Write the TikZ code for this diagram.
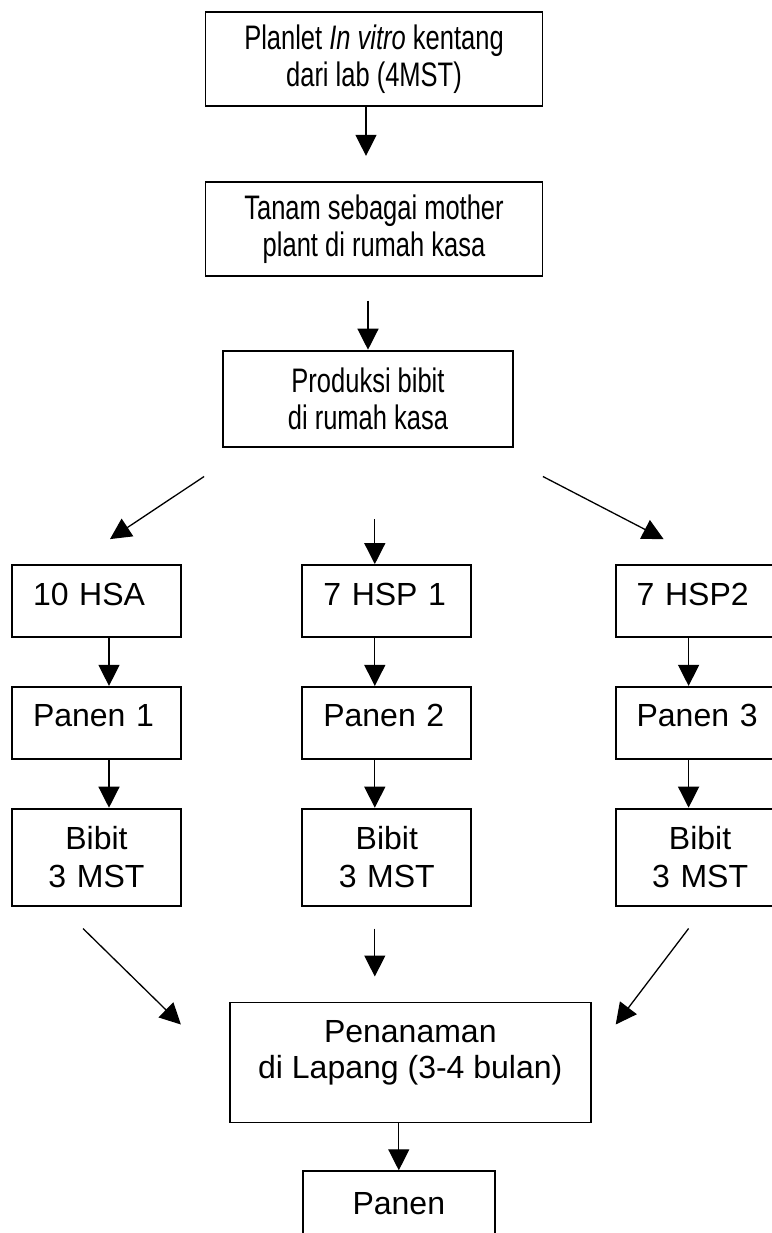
\documentclass[tikz,border=0pt]{standalone}
\usepackage{fontspec}
\setmainfont{Liberation Sans}
\newfontfamily\narrowfont[FakeStretch=0.75]{Liberation Sans}
\usetikzlibrary{positioning}
\usetikzlibrary{arrows.meta}
\tikzset{>={Triangle[width=21pt,length=21pt]}}
\tikzset{
  topbox/.style={draw, line width=1.8pt, minimum width=337pt, minimum height=94pt, align=center, font=\narrowfont\fontsize{34}{37}\selectfont},
  stepbox/.style={draw, line width=1.8pt, minimum width=169pt, minimum height=72pt, text width=127pt, inner xsep=21pt, align=left, text height=23pt, text depth=15pt, font=\fontsize{32}{38}\selectfont},
  seedbox/.style={draw, line width=1.8pt, minimum width=169pt, minimum height=97pt, text width=127pt, inner xsep=21pt, align=center, font=\fontsize{32}{38}\selectfont},
  arrow/.style={->, line width=1.3pt}
}
\begin{document}
\begin{tikzpicture}
\useasboundingbox (0,0) rectangle (771pt,-1233pt);
\node (PI) [topbox] at (374pt,-59pt) {Planlet \textit{In vitro} kentang\\dari lab (4MST)};
\node (TM) [topbox, below=74pt of PI] {Tanam sebagai mother\\plant di rumah kasa};
\node (PB) [topbox, minimum width=290pt, minimum height=96pt, below=73pt of TM, xshift=-6pt] {Produksi bibit\\di rumah kasa};

\node (HSA) [stepbox] at (96.5pt,-601pt) {10 HSA};
\node (HSP1) [stepbox, right=119.5pt of HSA] {7 HSP 1};
\node (HSP2) [stepbox, right=142.5pt of HSP1] {7 HSP2};
\node (P1) [stepbox, below=48pt of HSA] {Panen 1};
\node (P2) [stepbox, below=48pt of HSP1] {Panen 2};
\node (P3) [stepbox, below=48pt of HSP2] {Panen 3};
\node (BB1) [seedbox, below=48pt of P1] {Bibit\\3 MST};
\node (BB2) [seedbox, below=48pt of P2] {Bibit\\3 MST};
\node (BB3) [seedbox, below=48pt of P3] {Bibit\\3 MST};

\node (PD) [draw, line width=1.8pt, minimum width=361pt, minimum height=120pt, align=center, font=\fontsize{32}{36}\selectfont, below=95pt of BB2, xshift=23.5pt] {Penanaman\\di Lapang (3-4 bulan)\rule[-25pt]{0pt}{0pt}};
\node (PN) [draw, line width=1.8pt, minimum width=192pt, minimum height=96pt, text height=23pt, text depth=32pt, font=\fontsize{32}{38}\selectfont, below=47pt of PD, xshift=-11.5pt] {Panen};

% top chain
\draw [arrow, shorten >=25pt] ([xshift=-8pt]PI.south) -- ([xshift=-8pt]TM.north);
\draw [arrow, shorten <=24pt] (TM.south -| PB.north) -- (PB.north);

% split into three
\draw [arrow] ([xshift=-18pt,yshift=-29pt]PB.south west) -- ([xshift=13.5pt,yshift=25pt]HSA.north);
\draw [arrow] ([xshift=-12pt,yshift=45pt]HSP1.north) -- ([xshift=-12pt]HSP1.north);
\draw [arrow] ([xshift=29pt,yshift=-29pt]PB.south east) -- ([xshift=-36.5pt,yshift=25pt]HSP2.north);

% columns
\draw [arrow] ([xshift=12.5pt]HSA.south) -- ([xshift=12.5pt]P1.north);
\draw [arrow] ([xshift=12.5pt]P1.south) -- ([xshift=12.5pt]BB1.north);
\draw [arrow] ([xshift=-12pt]HSP1.south) -- ([xshift=-12pt]P2.north);
\draw [arrow] ([xshift=-12pt]P2.south) -- ([xshift=-12pt]BB2.north);
\draw [arrow] ([xshift=-11.5pt]HSP2.south) -- ([xshift=-11.5pt]P3.north);
\draw [arrow] ([xshift=-11.5pt]P3.south) -- ([xshift=-11.5pt]BB3.north);

% join into field planting
\draw [arrow] ([xshift=-13.5pt,yshift=-22pt]BB1.south) -- ([xshift=-48pt,yshift=-23pt]PD.north west);
\draw [arrow, shorten <=22pt, shorten >=25pt] ([xshift=-12pt]BB2.south) -- ([xshift=-12pt]BB2.south |- PD.north);
\draw [arrow] ([xshift=-11.5pt,yshift=-22pt]BB3.south) -- ([xshift=24pt,yshift=-23pt]PD.north east);
\draw [arrow] (PD.south -| PN.north) -- (PN.north);
\end{tikzpicture}
\end{document}
